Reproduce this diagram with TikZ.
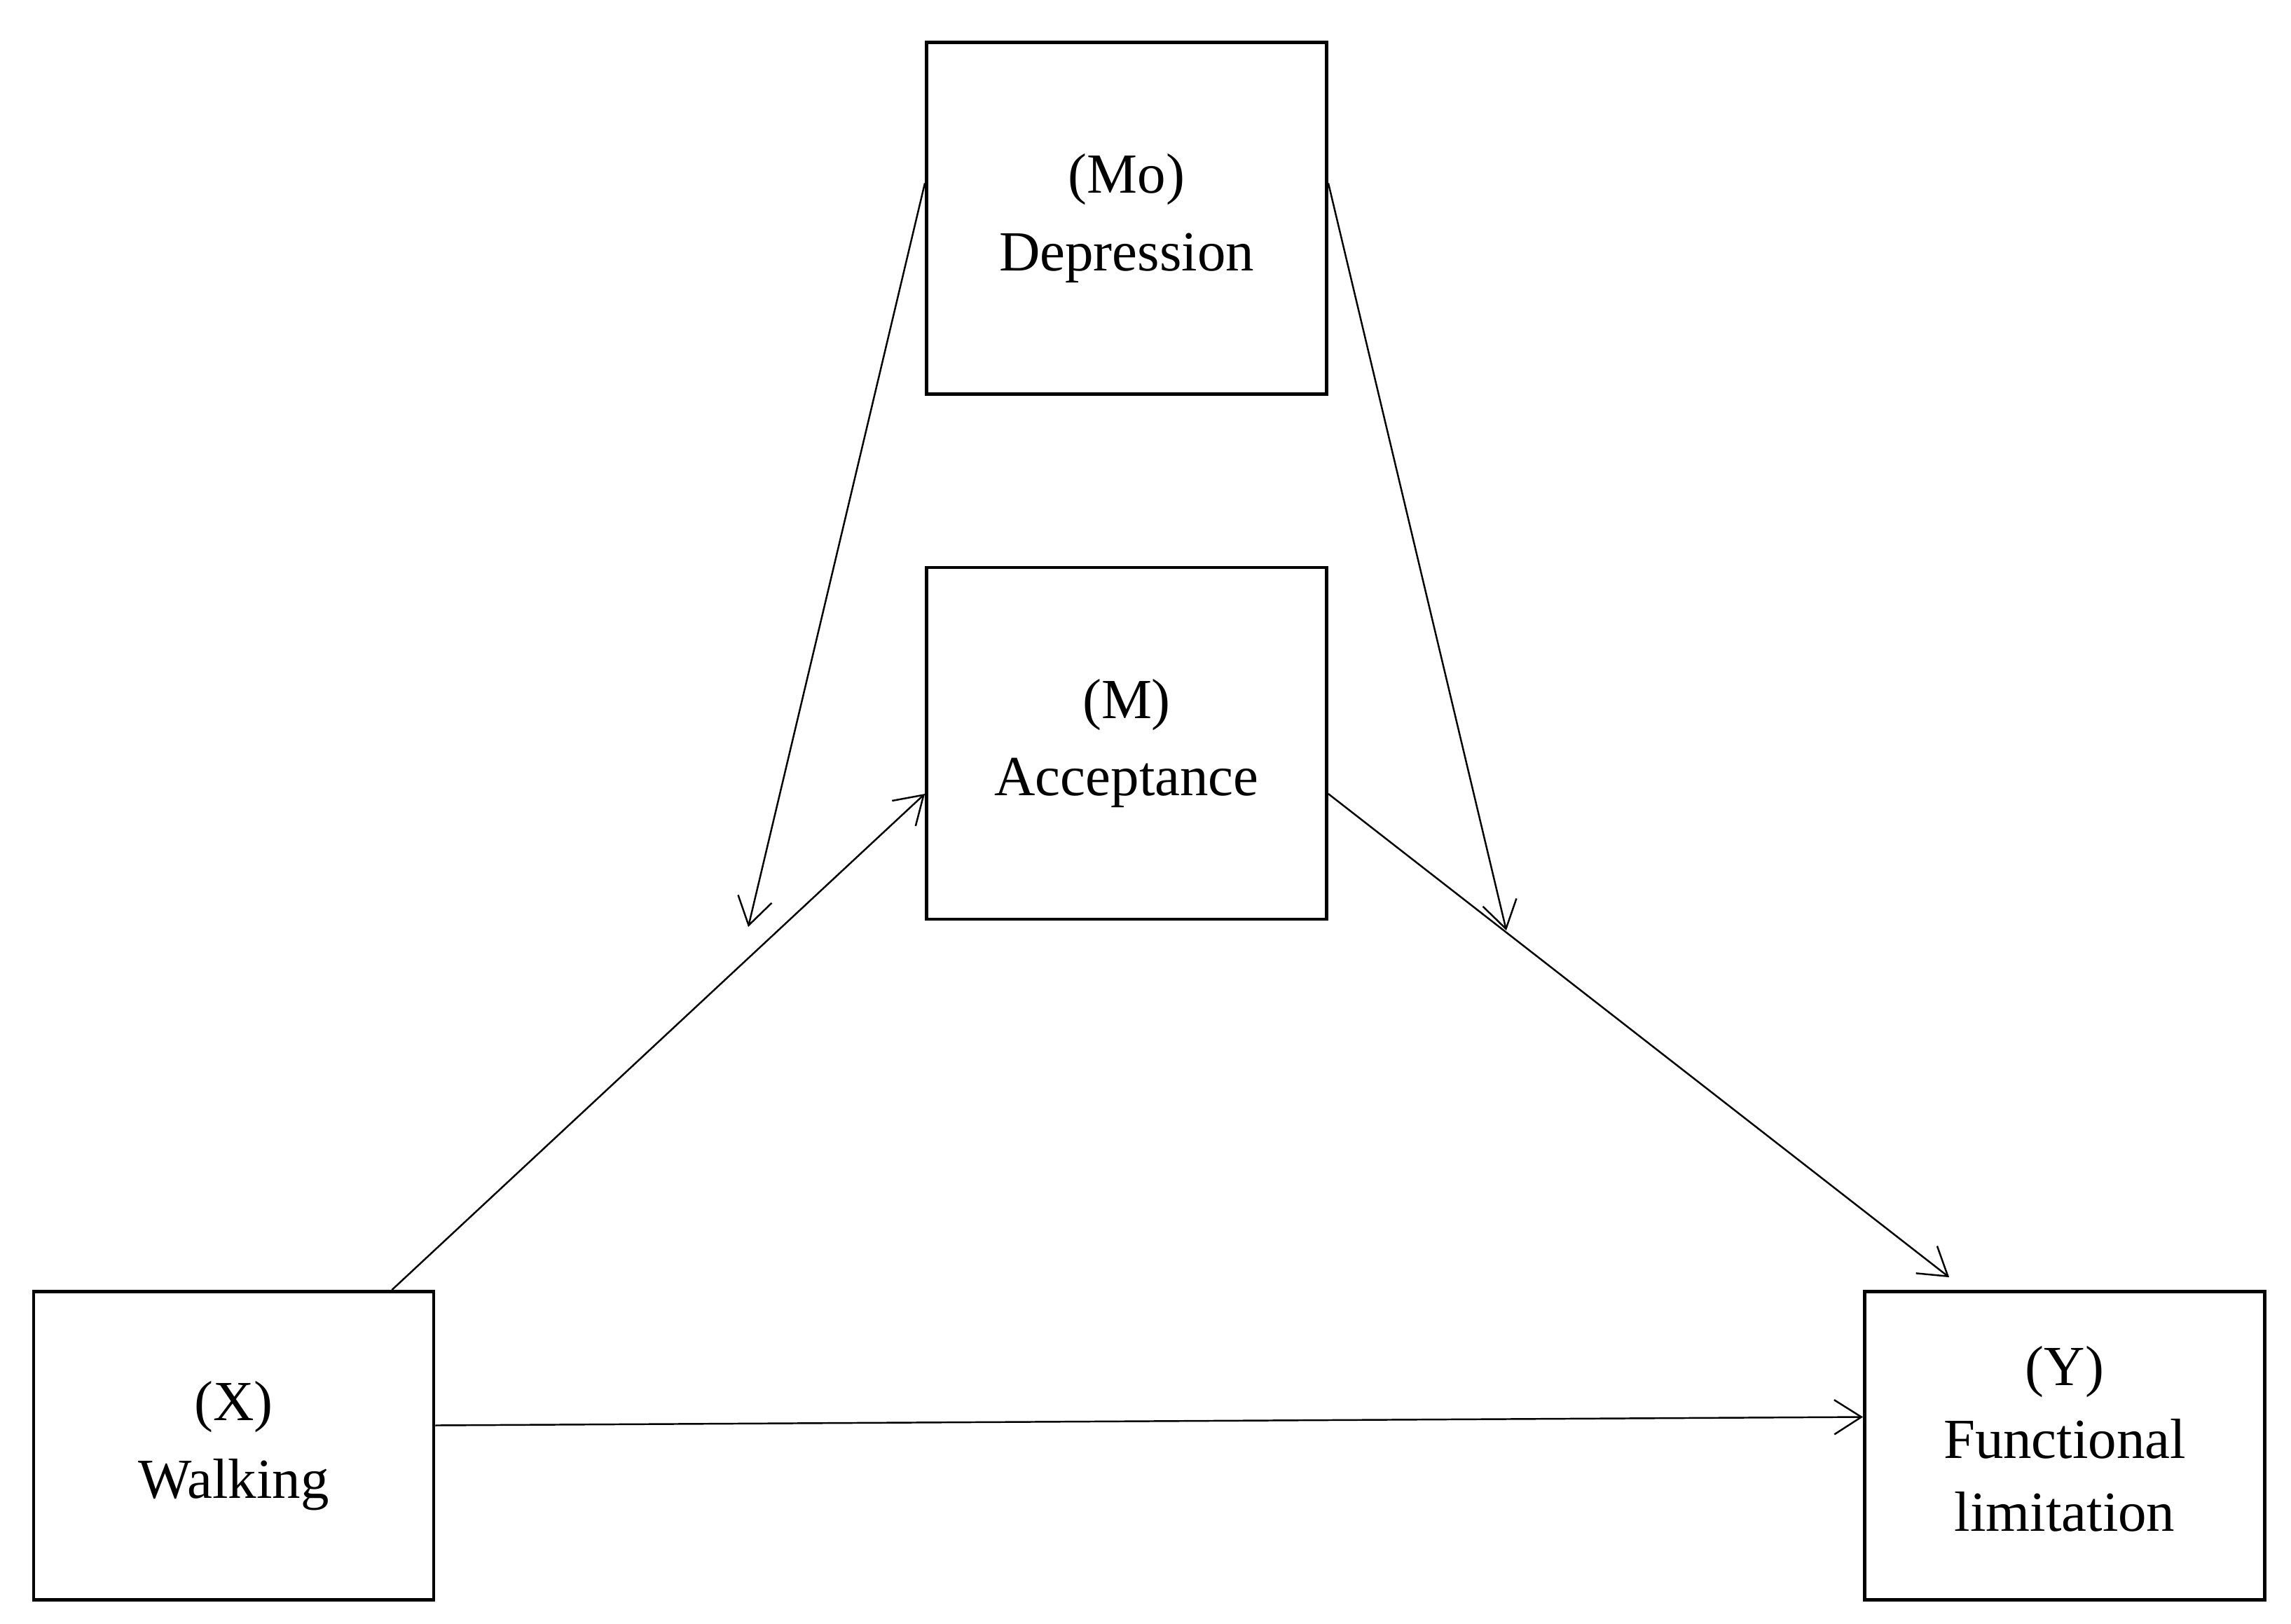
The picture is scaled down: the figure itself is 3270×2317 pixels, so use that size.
\documentclass[tikz,border=0pt]{standalone}
\usepackage{fontspec}
\setmainfont{Liberation Serif}
\usetikzlibrary{arrows.meta}
\begin{document}
\begin{tikzpicture}[x=0.01cm,y=-0.01cm,
  box/.style={draw, line width=1.3pt, minimum width=5.71cm, align=center,
    font=\fontsize{23}{31.5}\selectfont, inner sep=0pt},
  tallbox/.style={box, minimum height=5.02cm},
  shortbox/.style={box, minimum height=4.40cm},
  conn/.style={line width=0.7pt, -{Straight Barb[length=11pt,width=14pt,line width=0.7pt]}}]
\useasboundingbox (0,0) rectangle (3270,2317);
\node[tallbox] (Mo) at (1608,311.5) {(Mo)\\Depression};
\node[tallbox] (M) at (1608,1061) {(M)\\Acceptance};
\node[shortbox] (X) at (333.5,2063.5) {(X)\\Walking};
\node[shortbox, font=\fontsize{23}{29.5}\selectfont, text depth=0.2cm] (Y) at (2947,2063.5) {(Y)\\Functional\\limitation};
\coordinate (t1) at (1068,1323);
\coordinate (t2) at (2150,1328);
\draw[conn] ([xshift=-0.62cm]X.north east) -- ([yshift=-0.72cm]M.west);
\draw[conn] ([yshift=-0.72cm]M.east) -- ([shift={(1.23cm,0.18cm)}]Y.north west);
\draw[conn] ([yshift=0.29cm]X.east) -- ([yshift=0.41cm]Y.west);
\draw[conn] ([yshift=0.5cm]Mo.west) -- (t1);
\draw[conn] ([yshift=0.5cm]Mo.east) -- (t2);
\end{tikzpicture}
\end{document}
